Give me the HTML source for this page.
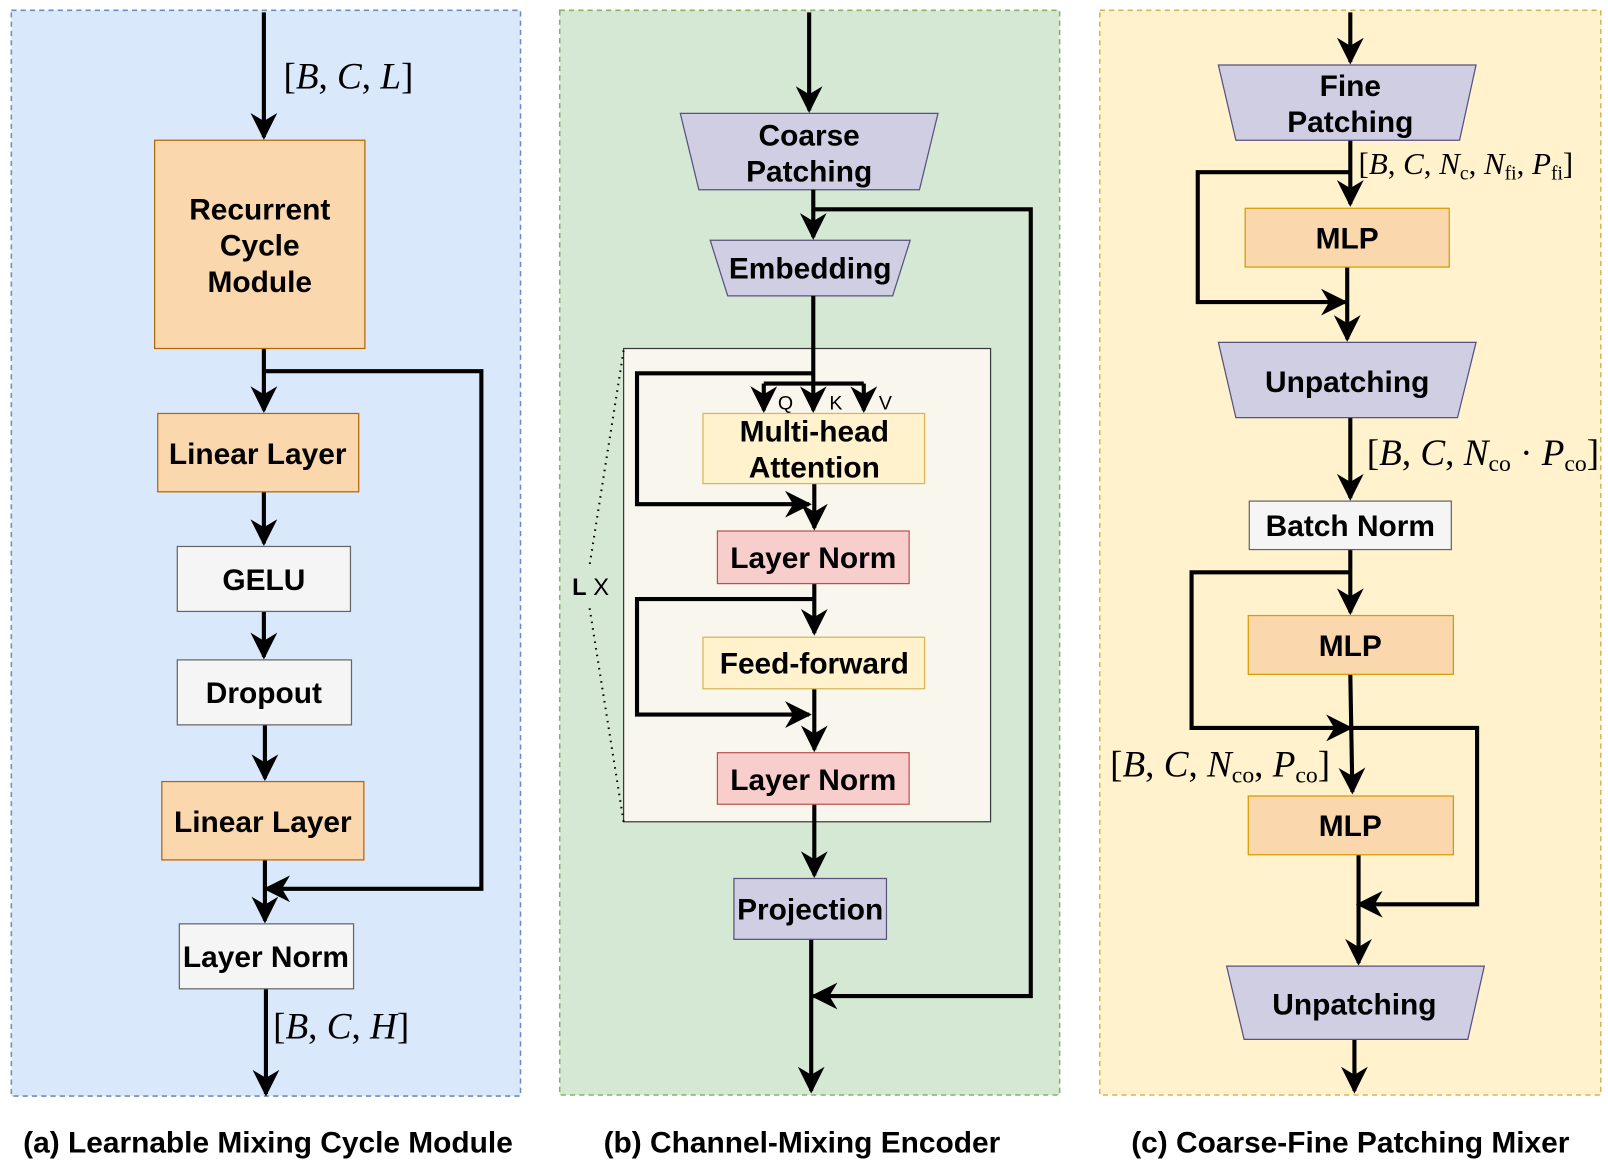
<!DOCTYPE html>
<html><head><meta charset="utf-8"><style>
html,body{margin:0;padding:0;background:#fff;}
svg{display:block;}
.b{font-family:"Liberation Sans",sans-serif;font-weight:bold;font-size:29px;text-anchor:middle;fill:#000;}
.m{font-family:"Liberation Serif",serif;font-style:italic;fill:#000;}
.s{font-style:normal;}
.l{stroke:#000;stroke-width:4;fill:none;}
</style></head><body>
<svg width="1608" height="1161" viewBox="0 0 1560 1126" preserveAspectRatio="none" xmlns="http://www.w3.org/2000/svg">
<defs><marker id="h" viewBox="0 0 10 10" refX="9" refY="5" markerWidth="6.5" markerHeight="6.5" orient="auto"><path d="M0,0 L10,5 L0,10 L3,5 z" fill="#000"/></marker></defs>
<rect x="11" y="10" width="494" height="1053" fill="#dae8fc" stroke="#6c8ebf" stroke-width="1.5" stroke-dasharray="5,4"/>
<rect x="543" y="10" width="485" height="1052" fill="#d5e8d4" stroke="#82b366" stroke-width="1.5" stroke-dasharray="5,4"/>
<rect x="1067" y="10" width="486" height="1052" fill="#fff2cc" stroke="#d6b656" stroke-width="1.5" stroke-dasharray="5,4"/>

<!-- panel a -->
<g marker-end="url(#h)">
<path class="l" d="M256,12 V133"/>
<path class="l" d="M256,338 V398"/>
<path class="l" d="M256,360 H467 V862 H258"/>
<path class="l" d="M256,477 V527"/>
<path class="l" d="M256,593 V637"/>
<path class="l" d="M257,703 V755"/>
<path class="l" d="M257,834 V893"/>
<path class="l" d="M258,959 V1061"/>
</g>
<text class="m" x="275" y="86" font-size="36"><tspan class="s">[</tspan>B<tspan class="s">, </tspan>C<tspan class="s">, </tspan>L<tspan class="s">]</tspan></text>
<rect x="150" y="136" width="204" height="202" fill="#fad7ac" stroke="#b46504" stroke-width="1.2"/>
<text class="b" x="252" y="213">Recurrent</text><text class="b" x="252" y="248">Cycle</text><text class="b" x="252" y="283">Module</text>
<rect x="153" y="401" width="195" height="76" fill="#fad7ac" stroke="#b46504" stroke-width="1.2"/>
<text class="b" x="250" y="450">Linear Layer</text>
<rect x="172" y="530" width="168" height="63" fill="#f5f5f5" stroke="#666" stroke-width="1.2"/>
<text class="b" x="256" y="572">GELU</text>
<rect x="172" y="640" width="169" height="63" fill="#f5f5f5" stroke="#666" stroke-width="1.2"/>
<text class="b" x="256" y="682">Dropout</text>
<rect x="157" y="758" width="196" height="76" fill="#fad7ac" stroke="#b46504" stroke-width="1.2"/>
<text class="b" x="255" y="807">Linear Layer</text>
<rect x="174" y="896" width="169" height="63" fill="#f5f5f5" stroke="#666" stroke-width="1.2"/>
<text class="b" x="258" y="938">Layer Norm</text>
<text class="m" x="265" y="1007" font-size="36"><tspan class="s">[</tspan>B<tspan class="s">, </tspan>C<tspan class="s">, </tspan>H<tspan class="s">]</tspan></text>

<!-- panel b -->
<rect x="605" y="338" width="356" height="459" fill="#f9f7ed" stroke="#36393d" stroke-width="1.2"/>
<path d="M605,340 L572,548 M572,590 L605,797" stroke="#000" stroke-width="2" stroke-dasharray="1.5,5" fill="none"/>
<text x="573" y="577" font-family="Liberation Sans,sans-serif" font-size="23" text-anchor="middle"><tspan font-weight="bold">L</tspan> X</text>
<polygon points="660,110 910,110 892,184 678,184" fill="#d0cee2" stroke="#56517e" stroke-width="1.2"/>
<text class="b" x="785" y="141">Coarse</text><text class="b" x="785" y="176">Patching</text>
<polygon points="689,233 883,233 866,287 706,287" fill="#d0cee2" stroke="#56517e" stroke-width="1.2"/>
<text class="b" x="786" y="270">Embedding</text>
<g marker-end="url(#h)">
<path class="l" d="M785,12 V107"/>
<path class="l" d="M789,184 V230"/>
<path class="l" d="M789,203 H1000 V966 H789"/>
<path class="l" d="M789,287 V398"/>
<path class="l" d="M741,372 V398"/>
<path class="l" d="M838,372 V398"/>
<path class="l" d="M789,362 H618 V489 H785"/>
<path class="l" d="M790,469 V512"/>
<path class="l" d="M790,566 V614"/>
<path class="l" d="M790,581 H618 V693 H785"/>
<path class="l" d="M790,668 V727"/>
<path class="l" d="M790,780 V849"/>
<path class="l" d="M787,911 V1058"/>
</g>
<path class="l" d="M741,372 H838"/>
<text x="762" y="397" font-family="Liberation Sans,sans-serif" font-size="19" text-anchor="middle">Q</text>
<text x="811" y="397" font-family="Liberation Sans,sans-serif" font-size="19" text-anchor="middle">K</text>
<text x="859" y="397" font-family="Liberation Sans,sans-serif" font-size="19" text-anchor="middle">V</text>
<rect x="682" y="401" width="215" height="68" fill="#fff2cc" stroke="#d6b656" stroke-width="1.2"/>
<text class="b" x="790" y="428">Multi-head</text><text class="b" x="790" y="463">Attention</text>
<rect x="696" y="515" width="186" height="51" fill="#f8cecc" stroke="#b85450" stroke-width="1.2"/>
<text class="b" x="789" y="551">Layer Norm</text>
<rect x="682" y="618" width="215" height="50" fill="#fff2cc" stroke="#d6b656" stroke-width="1.2"/>
<text class="b" x="790" y="653">Feed-forward</text>
<rect x="696" y="730" width="186" height="50" fill="#f8cecc" stroke="#b85450" stroke-width="1.2"/>
<text class="b" x="789" y="766">Layer Norm</text>
<rect x="712" y="852" width="148" height="59" fill="#d0cee2" stroke="#56517e" stroke-width="1.2"/>
<text class="b" x="786" y="892">Projection</text>

<!-- panel c -->
<g marker-end="url(#h)">
<path class="l" d="M1310,12 V60"/>
<path class="l" d="M1310,136 V198"/>
<path class="l" d="M1310,167 H1162 V293 H1305"/>
<path class="l" d="M1307,259 V329"/>
<path class="l" d="M1310,405 V483"/>
<path class="l" d="M1310,533 V594"/>
<path class="l" d="M1310,555 H1156 V706 H1310"/>
<path class="l" d="M1310,654 L1312,768"/>
<path class="l" d="M1310,706 H1433 V877 H1318"/>
<path class="l" d="M1318,829 V934"/>
<path class="l" d="M1314,1008 V1058"/>
</g>
<polygon points="1182,63 1432,63 1416,136 1199,136" fill="#d0cee2" stroke="#56517e" stroke-width="1.2"/>
<text class="b" x="1310" y="93">Fine</text><text class="b" x="1310" y="128">Patching</text>
<text class="m" x="1318" y="169" font-size="30"><tspan class="s">[</tspan>B<tspan class="s">, </tspan>C<tspan class="s">, </tspan>N<tspan class="s" font-size="19" dy="5">c</tspan><tspan class="s" dy="-5">, </tspan>N<tspan class="s" font-size="19" dy="5">fi</tspan><tspan class="s" dy="-5">, </tspan>P<tspan class="s" font-size="19" dy="5">fi</tspan><tspan class="s" dy="-5">]</tspan></text>
<rect x="1208" y="202" width="198" height="57" fill="#fad7ac" stroke="#d79b00" stroke-width="1.2"/>
<text class="b" x="1307" y="241">MLP</text>
<polygon points="1182,332 1432,332 1414,405 1199,405" fill="#d0cee2" stroke="#56517e" stroke-width="1.2"/>
<text class="b" x="1307" y="380">Unpatching</text>
<text class="m" x="1326" y="451" font-size="36"><tspan class="s">[</tspan>B<tspan class="s">, </tspan>C<tspan class="s">, </tspan>N<tspan class="s" font-size="23" dy="6">co</tspan><tspan class="s" dy="-6"> · </tspan>P<tspan class="s" font-size="23" dy="6">co</tspan><tspan class="s" dy="-6">]</tspan></text>
<rect x="1212" y="486" width="196" height="47" fill="#f5f5f5" stroke="#666" stroke-width="1.2"/>
<text class="b" x="1310" y="520">Batch Norm</text>
<rect x="1211" y="597" width="199" height="57" fill="#fad7ac" stroke="#d79b00" stroke-width="1.2"/>
<text class="b" x="1310" y="636">MLP</text>
<text class="m" x="1077" y="753" font-size="36"><tspan class="s">[</tspan>B<tspan class="s">, </tspan>C<tspan class="s">, </tspan>N<tspan class="s" font-size="23" dy="6">co</tspan><tspan class="s" dy="-6">, </tspan>P<tspan class="s" font-size="23" dy="6">co</tspan><tspan class="s" dy="-6">]</tspan></text>
<rect x="1211" y="772" width="199" height="57" fill="#fad7ac" stroke="#d79b00" stroke-width="1.2"/>
<text class="b" x="1310" y="811">MLP</text>
<polygon points="1190,937 1440,937 1424,1008 1207,1008" fill="#d0cee2" stroke="#56517e" stroke-width="1.2"/>
<text class="b" x="1314" y="984">Unpatching</text>

<text class="b" x="260" y="1118">(a) Learnable Mixing Cycle Module</text>
<text class="b" x="778" y="1118">(b) Channel-Mixing Encoder</text>
<text class="b" x="1310" y="1118">(c) Coarse-Fine Patching Mixer</text>
</svg>
</body></html>
